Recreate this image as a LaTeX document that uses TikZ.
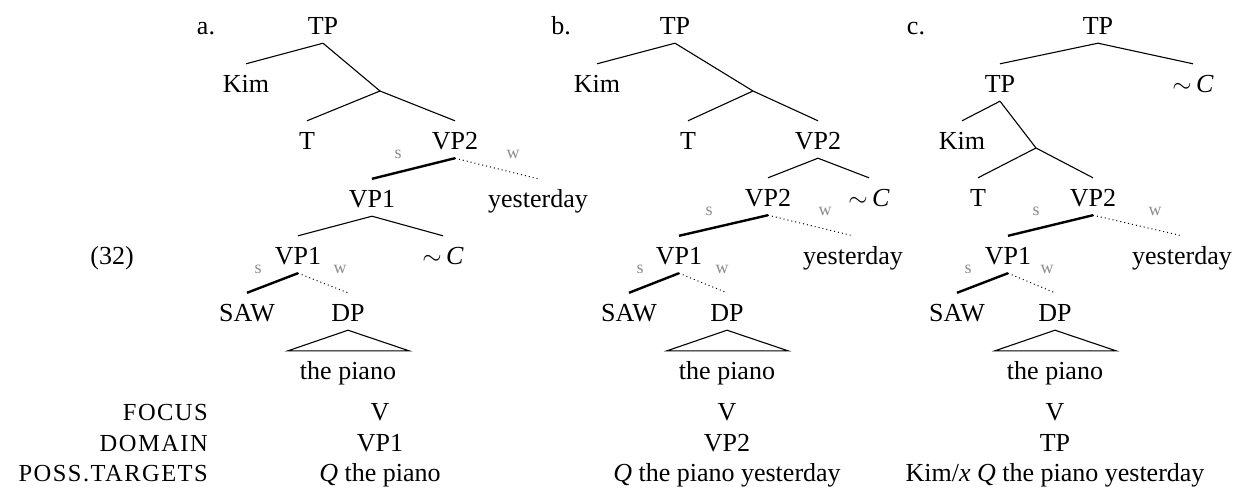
\documentclass[tikz,border=0pt]{standalone}
\usepackage{fontspec}
\setmainfont{Liberation Serif}
\definecolor{swgray}{gray}{0.55}
\tikzset{
  lab/.style={anchor=base, inner sep=0pt, text height=28pt, text depth=9pt, font=\fontsize{26}{31}\selectfont},
  rowlab/.style={anchor=base east, inner sep=0pt, font=\fontsize{24.5}{29}\selectfont\addfontfeature{LetterSpace=6}},
  swlab/.style={anchor=base, inner sep=0pt, font=\fontsize{18}{20}\selectfont, text=swgray},
  branch/.style={line width=1.1pt},
  strong/.style={line width=2.4pt},
  weak/.style={line width=1pt, dash pattern=on 1pt off 3pt},
  tri/.style={line width=1.1pt, line join=miter}
}
\begin{document}
\begin{tikzpicture}[x=1pt, y=-1pt]
\useasboundingbox (0,0) rectangle (1251,493);
% ---------- labels ----------
\node[lab] (ex) at (112,264) {(32)};
\node[lab] (la) at (206,34) {a.};
\node[lab] (lb) at (561,34) {b.};
\node[lab] (lc) at (916,34) {c.};
\node[rowlab] (rfoc) at (208,420) {FOCUS};
\node[rowlab] (rdom) at (208,451) {DOMAIN};
\node[rowlab] (rposs) at (208,481) {POSS.TARGETS};
% ---------- tree a ----------
\node[lab] (aTP) at (323,34) {TP};
\node[lab] (aKim) at (246,92) {Kim};
\coordinate (aJ) at (380,91);
\node[lab] (aT) at (307,149) {T};
\node[lab] (aVP2) at (455,149) {VP2};
\node[lab] (aVP1b) at (372,207) {VP1};
\node[lab] (aYest) at (538,207) {yesterday};
\node[lab] (aVP1) at (298,264) {VP1};
\node[lab] (aC) at (443,264) {$\sim$\,\textit{C}};
\node[lab] (aSAW) at (247,321) {SAW};
\node[lab] (aDP) at (348,321) {DP};
\node[lab] (aPiano) at (348,379) {the piano};
\node[swlab] (as1) at (398,158) {s};
\node[swlab] (aw1) at (513,158) {w};
\node[swlab] (as2) at (258,273) {s};
\node[swlab] (aw2) at (340,273) {w};
\node[lab] (aFoc) at (380,420) {V};
\node[lab] (aDom) at (380,451) {VP1};
\node[lab] (aPoss) at (380,481) {\textit{Q} the piano};
\draw[branch] (aTP.south) -- (aKim.north);
\draw[branch] (aTP.south) -- (aJ);
\draw[branch] (aJ) -- (aT.north);
\draw[branch] (aJ) -- (aVP2.north);
\draw[strong] (aVP2.south) -- (aVP1b.north);
\draw[weak] (aVP2.south) -- (aYest.north);
\draw[branch] (aVP1b.south) -- (aVP1.north);
\draw[branch] (aVP1b.south) -- (aC.north);
\draw[strong] (aVP1.south) -- (aSAW.north);
\draw[weak] (aVP1.south) -- (aDP.north);
\draw[tri] (aDP.south) -- ([xshift=-60pt]aPiano.north) -- ([xshift=61pt]aPiano.north) -- cycle;
% ---------- tree b ----------
\node[lab] (bTP) at (675,34) {TP};
\node[lab] (bKim) at (597,92) {Kim};
\coordinate (bJ) at (753,91);
\node[lab] (bT) at (688,149) {T};
\node[lab] (bVP2) at (818,149) {VP2};
\node[lab] (bVP2b) at (768,206) {VP2};
\node[lab] (bC) at (869,206) {$\sim$\,\textit{C}};
\node[lab] (bVP1) at (679,264) {VP1};
\node[lab] (bYest) at (853,264) {yesterday};
\node[lab] (bSAW) at (629,321) {SAW};
\node[lab] (bDP) at (727,321) {DP};
\node[lab] (bPiano) at (727,379) {the piano};
\node[swlab] (bs1) at (709,215) {s};
\node[swlab] (bw1) at (825,215) {w};
\node[swlab] (bs2) at (640,273) {s};
\node[swlab] (bw2) at (722,273) {w};
\node[lab] (bFoc) at (727,420) {V};
\node[lab] (bDom) at (727,451) {VP2};
\node[lab] (bPoss) at (727,481) {\textit{Q} the piano yesterday};
\draw[branch] (bTP.south) -- (bKim.north);
\draw[branch] (bTP.south) -- (bJ);
\draw[branch] (bJ) -- (bT.north);
\draw[branch] (bJ) -- (bVP2.north);
\draw[branch] (bVP2.south) -- (bVP2b.north);
\draw[branch] (bVP2.south) -- (bC.north);
\draw[strong] (bVP2b.south) -- (bVP1.north);
\draw[weak] (bVP2b.south) -- (bYest.north);
\draw[strong] (bVP1.south) -- (bSAW.north);
\draw[weak] (bVP1.south) -- (bDP.north);
\draw[tri] (bDP.south) -- ([xshift=-60pt]bPiano.north) -- ([xshift=61pt]bPiano.north) -- cycle;
% ---------- tree c ----------
\node[lab] (cTP) at (1098,34) {TP};
\node[lab] (cTP2) at (1000,92) {TP};
\node[lab] (cC) at (1193,92) {$\sim$\,\textit{C}};
\node[lab] (cKim) at (962,149) {Kim};
\coordinate (cJ) at (1036,148);
\node[lab] (cT) at (978,206) {T};
\node[lab] (cVP2) at (1093,206) {VP2};
\node[lab] (cVP1) at (1008,264) {VP1};
\node[lab] (cYest) at (1182,264) {yesterday};
\node[lab] (cSAW) at (957,321) {SAW};
\node[lab] (cDP) at (1055,321) {DP};
\node[lab] (cPiano) at (1055,379) {the piano};
\node[swlab] (cs1) at (1036,215) {s};
\node[swlab] (cw1) at (1155,215) {w};
\node[swlab] (cs2) at (968,273) {s};
\node[swlab] (cw2) at (1047,273) {w};
\node[lab] (cFoc) at (1055,420) {V};
\node[lab] (cDom) at (1055,451) {TP};
\node[lab] (cPoss) at (1055,481) {Kim/\textit{x} \textit{Q} the piano yesterday};
\draw[branch] (cTP.south) -- (cTP2.north);
\draw[branch] (cTP.south) -- (cC.north);
\draw[branch] (cTP2.south) -- (cKim.north);
\draw[branch] (cTP2.south) -- (cJ);
\draw[branch] (cJ) -- (cT.north);
\draw[branch] (cJ) -- (cVP2.north);
\draw[strong] (cVP2.south) -- (cVP1.north);
\draw[weak] (cVP2.south) -- (cYest.north);
\draw[strong] (cVP1.south) -- (cSAW.north);
\draw[weak] (cVP1.south) -- (cDP.north);
\draw[tri] (cDP.south) -- ([xshift=-60pt]cPiano.north) -- ([xshift=61pt]cPiano.north) -- cycle;
\end{tikzpicture}
\end{document}
